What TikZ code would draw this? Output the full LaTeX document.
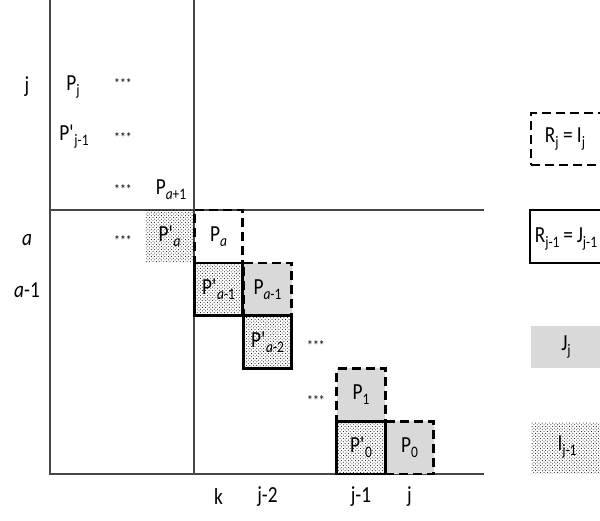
\documentclass[tikz,border=0pt]{standalone}
\usepackage{fontspec}
\setmainfont{Carlito}[FakeStretch=0.84]
\usetikzlibrary{patterns}

\definecolor{cellgray}{RGB}{217,217,217}
\definecolor{axisgray}{RGB}{70,70,70}

\pgfdeclarepatternformonly{fine dots}{\pgfqpoint{-1pt}{-1pt}}{\pgfqpoint{4pt}{4pt}}{\pgfqpoint{3.4pt}{3.4pt}}{%
  \pgfpathcircle{\pgfqpoint{0pt}{0pt}}{0.5pt}%
  \pgfpathcircle{\pgfqpoint{1.7pt}{1.7pt}}{0.5pt}%
  \pgfusepath{fill}}

\newcommand{\lsub}[1]{\raisebox{-5pt}{\fontsize{16}{17}\selectfont #1}}
\newcommand{\prm}{\textquotesingle}
\newcommand{\ia}{\textit{a}}

\begin{document}
\begin{tikzpicture}[x=1pt, y=-1pt]
    \tikzstyle{every node}=[inner sep=0pt, font=\fontsize{23}{27}\selectfont]
    \tikzstyle{axis}=[draw=axisgray, line width=1.3pt]
    \tikzstyle{cell}=[rectangle, minimum width=48.5pt, minimum height=52.8pt]
    \tikzstyle{dash cell}=[cell, draw=black, line width=2.6pt, dash pattern=on 9pt off 5pt]
    \tikzstyle{gray cell}=[dash cell, fill=cellgray]
    \tikzstyle{dot cell}=[cell, pattern=fine dots]
    \tikzstyle{solid cell}=[dot cell, draw=black, line width=2.6pt]
    \tikzstyle{stars}=[font=\fontsize{14}{15}\selectfont]
    \tikzstyle{legend}=[rectangle, minimum width=110pt]

    \useasboundingbox (0,0) rectangle (600,520);

    % axes
    \coordinate (top1) at (50, 0);
    \coordinate (orig) at (50, 474);
    \coordinate (endx) at (484, 474);
    \coordinate (top2) at (194, 0);
    \coordinate (bot2) at (194, 474);
    \coordinate (rowl) at (50, 210);
    \coordinate (rowr) at (484, 210);
    \draw[axis] (top1) -- (orig) -- (endx);
    \draw[axis] (top2) -- (bot2);
    \draw[axis] (rowl) -- (rowr);

    % row and column labels
    \node (rj)  at (27, 87)  {j};
    \node (ra)  at (27, 240) {\ia};
    \node (ra1) at (27, 290) {\ia-1};
    \node (ck)  at (218.5, 497) {k};
    \node (cj2) at (267.5, 497) {j-2};
    \node (cj1) at (361, 497)   {j-1};
    \node (cj)  at (409.5, 497) {j};

    % upper left block
    \node (pj)   at (73, 87)   {P\lsub{j}};
    \node (ppj1) at (74, 137)  {P\prm\lsub{j-1}};
    \node (pa1)  at (171, 190) {P\lsub{\ia+1}};
    \node[stars] (s1) at (123, 84)  {***};
    \node[stars] (s2) at (123, 138) {***};
    \node[stars] (s3) at (123, 190) {***};
    \node[stars] (s4) at (123, 241) {***};
    \node[stars] (s5) at (316, 346) {***};
    \node[stars] (s6) at (316, 401) {***};

    % cells
    \node[dash cell] (pa)   at (218.5, 236.4) {P\lsub{\ia}};
    \node[gray cell] (pam1) at (267.5, 289.2) {P\lsub{\ia-1}};
    \node[gray cell] (p1)   at (361, 394.8)   {P\lsub{1}};
    \node[gray cell] (p0)   at (409.5, 447.6) {P\lsub{0}};
    \node[dot cell]   (ppa)   at (169.5, 236.4) {P\prm\lsub{\ia}};
    \node[solid cell] (ppam1) at (218.5, 289.2) {P\prm\lsub{\ia-1}};
    \node[solid cell] (ppam2) at (267.5, 342)   {P\prm\lsub{\ia-2}};
    \node[solid cell] (pp0)   at (361, 447.6)   {P\prm\lsub{0}};

    % legend
    \node[legend, minimum height=52pt, draw=black, line width=2.6pt, dash pattern=on 9pt off 5pt] (lr) at (586, 139) {};
    \node[legend, minimum height=53pt, draw=black, line width=2.6pt] (lrj) at (585, 236.5) {};
    \node[legend, minimum height=42pt, fill=cellgray] (lj) at (586, 347) {};
    \node[legend, minimum height=51pt, pattern=fine dots] (li) at (586, 447.5) {};
    \node (lrt)  at (565, 139) {R\lsub{j} = I\lsub{j}};
    \node (lrjt) at (566, 239) {R\lsub{j-1}\,=\,J\lsub{j-1}};
    \node (ljt)  at (566, 347) {J\lsub{j}};
    \node (lit)  at (567, 447) {I\lsub{j-1}};
\end{tikzpicture}
\end{document}
